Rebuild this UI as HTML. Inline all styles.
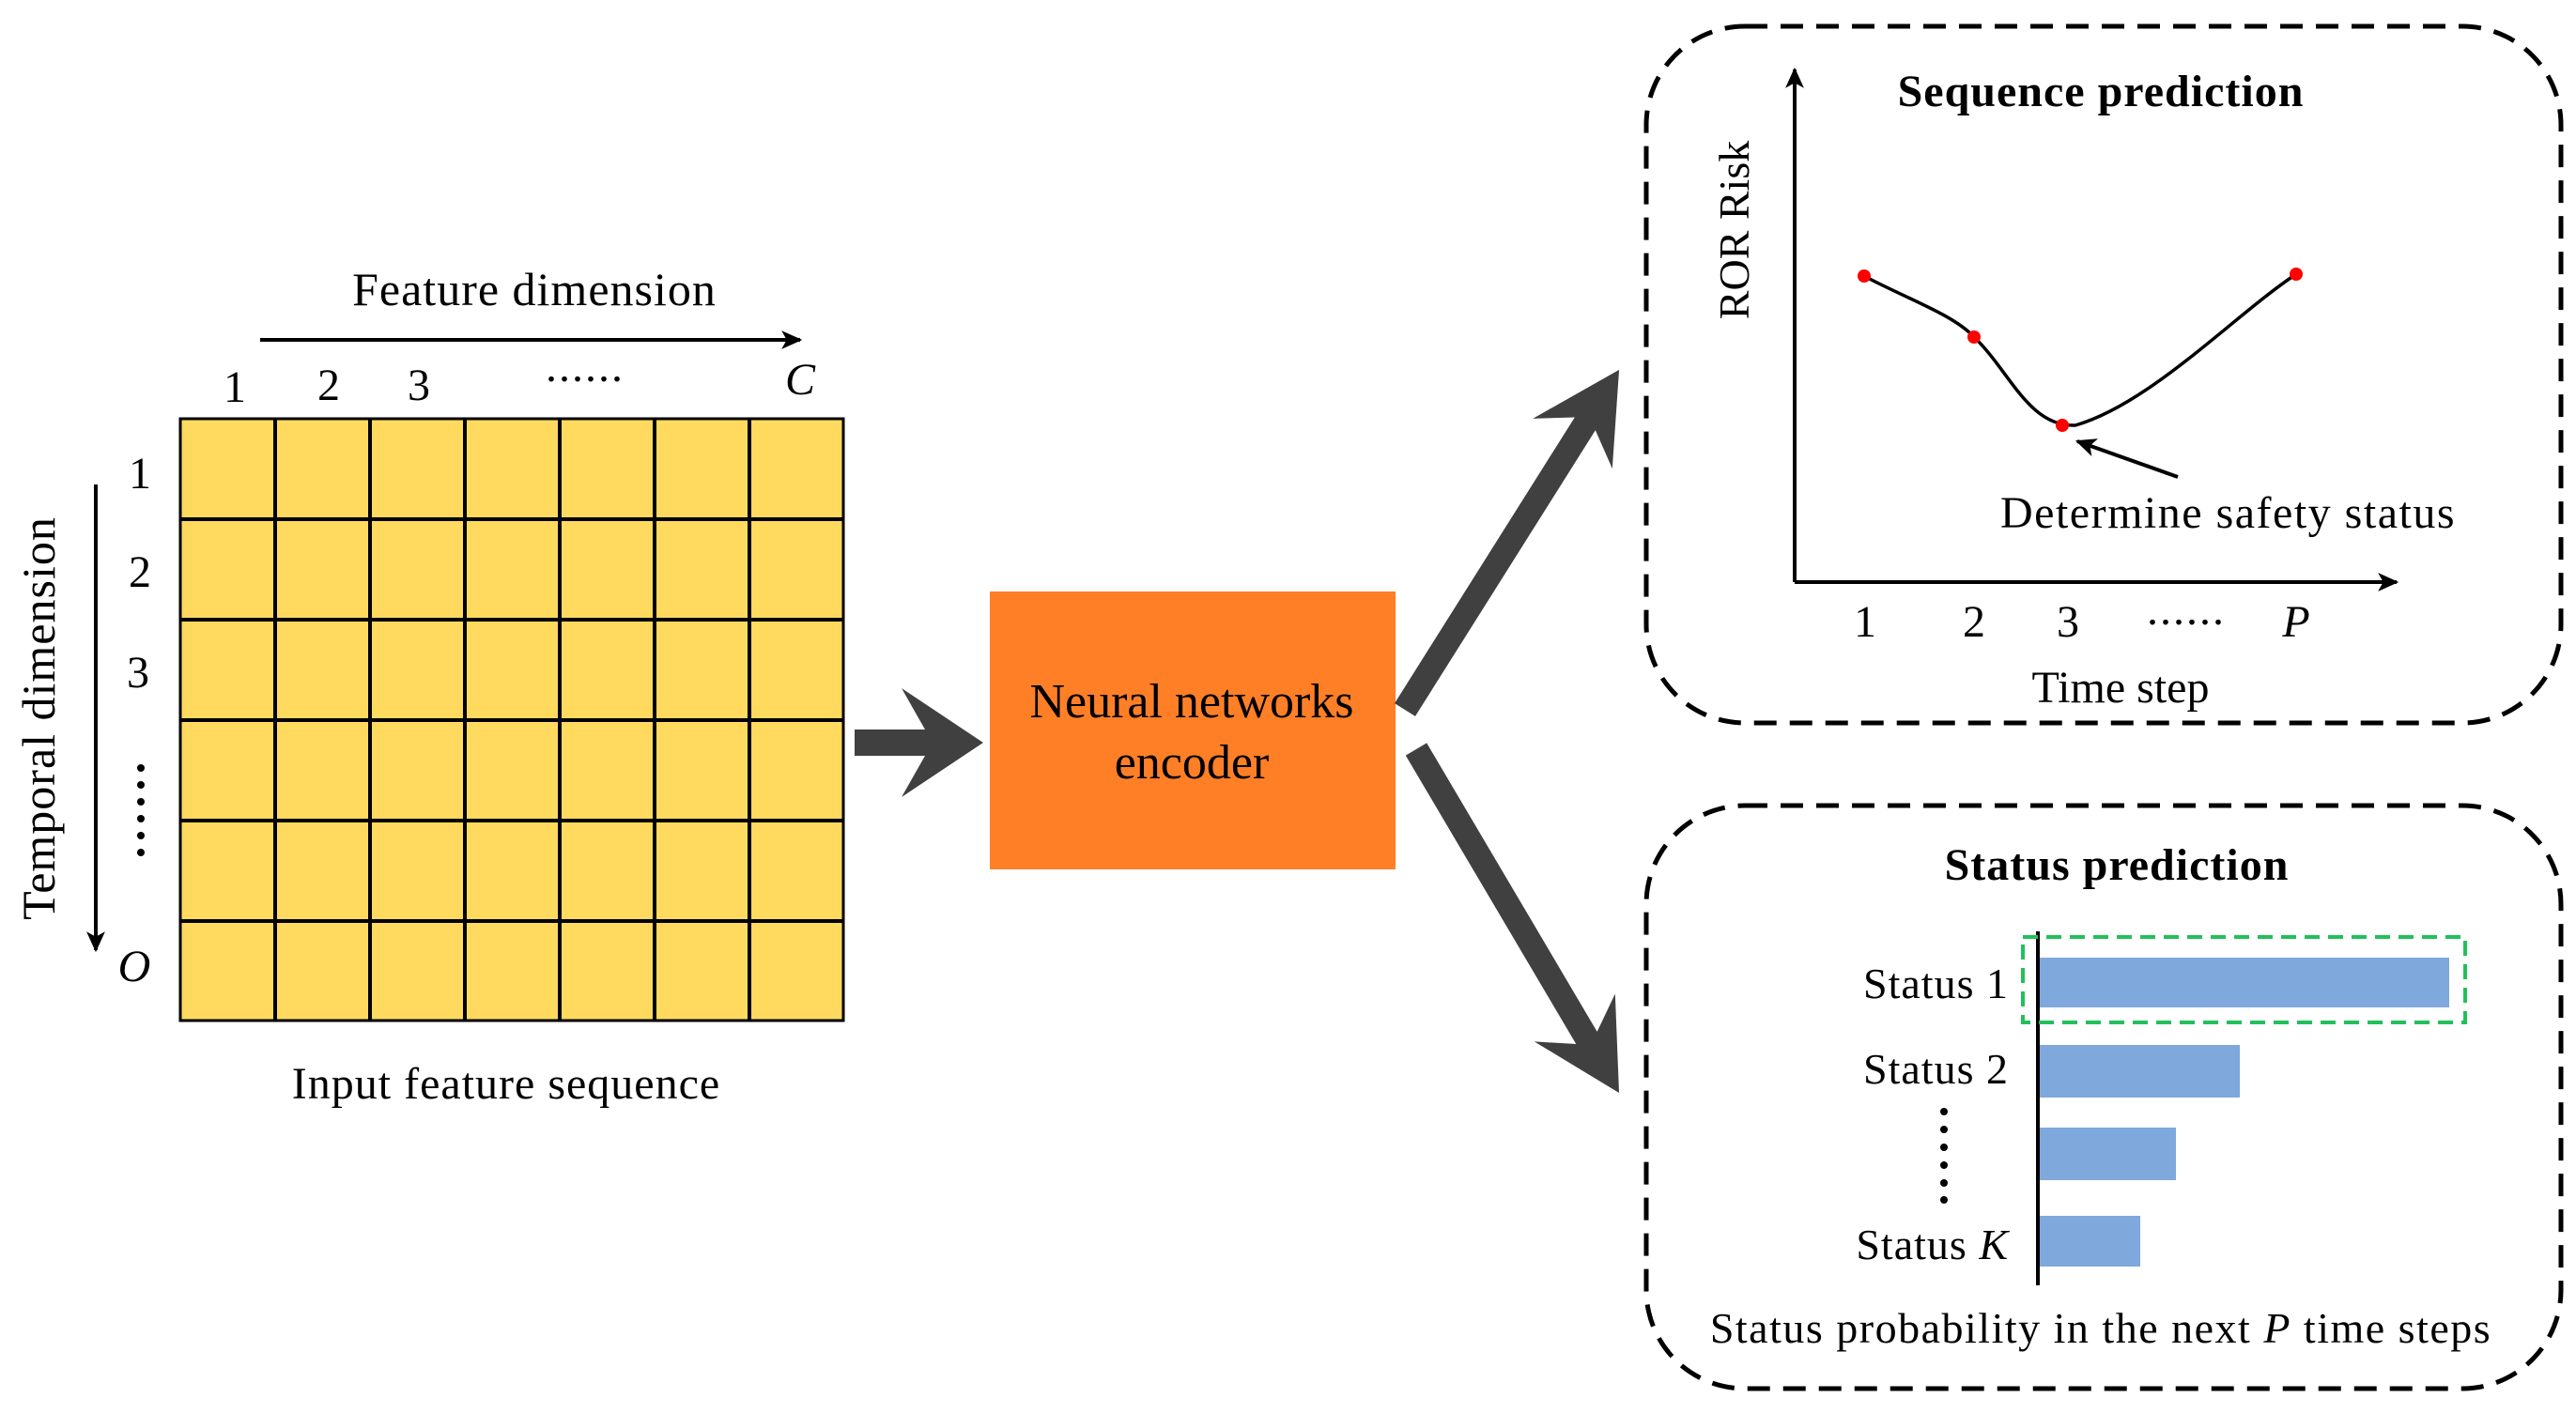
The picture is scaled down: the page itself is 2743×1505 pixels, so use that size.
<!DOCTYPE html>
<html><head><meta charset="utf-8"><style>
html,body{margin:0;padding:0;background:#fff;}
svg{display:block;font-family:"Liberation Serif","DejaVu Serif","Times New Roman",serif;}
text{font-family:"Liberation Serif","DejaVu Serif","Times New Roman",serif;fill:#000;}
</style></head><body>
<svg width="2743" height="1505" viewBox="0 0 2743 1505" xmlns="http://www.w3.org/2000/svg" font-family="Liberation Serif, DejaVu Serif, serif">
<defs>
<marker id="ah" viewBox="0 0 20 20" refX="18" refY="10" markerWidth="22" markerHeight="22" markerUnits="userSpaceOnUse" orient="auto">
<path d="M0,1 L20,10 L0,19 L5,10 z" fill="#000"/></marker>
</defs>
<!-- grid -->
<rect x="192" y="446" width="706" height="641" fill="#FFDA5E" stroke="#000" stroke-width="3"/>
<g stroke="#000" stroke-width="4">
<line x1="293" y1="446" x2="293" y2="1087"/><line x1="394" y1="446" x2="394" y2="1087"/>
<line x1="495" y1="446" x2="495" y2="1087"/><line x1="596" y1="446" x2="596" y2="1087"/>
<line x1="697" y1="446" x2="697" y2="1087"/><line x1="798" y1="446" x2="798" y2="1087"/>
<line x1="192" y1="553" x2="898" y2="553"/><line x1="192" y1="660" x2="898" y2="660"/>
<line x1="192" y1="767" x2="898" y2="767"/><line x1="192" y1="874" x2="898" y2="874"/>
<line x1="192" y1="981" x2="898" y2="981"/>
</g>
<text x="569" y="325" font-size="50" text-anchor="middle" letter-spacing="1">Feature dimension</text>
<line x1="277" y1="362" x2="852" y2="362" stroke="#000" stroke-width="4" marker-end="url(#ah)"/>
<g font-size="48" text-anchor="middle">
<text x="250" y="428">1</text><text x="350" y="426">2</text><text x="446" y="426">3</text>
<text x="623" y="406" letter-spacing="2">......</text>
<text x="852" y="420" font-style="italic">C</text>
<text x="149" y="520">1</text><text x="149" y="625">2</text><text x="147" y="732">3</text>
<text x="143" y="1045" font-style="italic">O</text>
</g>
<g fill="#000"><circle cx="150" cy="818" r="4"/><circle cx="150" cy="836" r="4"/><circle cx="150" cy="854" r="4"/><circle cx="150" cy="872" r="4"/><circle cx="150" cy="890" r="4"/><circle cx="150" cy="908" r="4"/></g>
<line x1="102" y1="516" x2="102" y2="1012" stroke="#000" stroke-width="4" marker-end="url(#ah)"/>
<text transform="translate(58,765) rotate(-90)" font-size="50" text-anchor="middle" letter-spacing="1">Temporal dimension</text>
<text x="539" y="1170" font-size="48" text-anchor="middle" letter-spacing="1">Input feature sequence</text>
<!-- arrow to encoder -->
<polygon points="910,777 985,777 960,733 1047,791 960,849 985,805 910,805" fill="#404040"/>
<!-- encoder -->
<rect x="1054" y="630" width="432" height="296" fill="#FF7F27"/>
<text x="1269" y="764" font-size="52" text-anchor="middle">Neural networks</text>
<text x="1269" y="829" font-size="52" text-anchor="middle">encoder</text>
<!-- diagonal arrows -->
<g transform="translate(1496,756) rotate(-57.8)"><polygon points="0,-13 360,-13 335,-50 428,0 335,50 360,13 0,13" fill="#404040"/></g>
<g transform="translate(1508,798) rotate(59.45)"><polygon points="0,-13 357,-13 332,-50 425,0 332,50 357,13 0,13" fill="#404040"/></g>
<!-- top box -->
<rect x="1753" y="28" width="974" height="742" rx="105" fill="none" stroke="#000" stroke-width="5" stroke-dasharray="24,14"/>
<text x="2237" y="113" font-size="48" font-weight="bold" text-anchor="middle" letter-spacing="1">Sequence prediction</text>
<line x1="1911" y1="620" x2="1911" y2="74" stroke="#000" stroke-width="4" marker-end="url(#ah)"/>
<line x1="1911" y1="620" x2="2552" y2="620" stroke="#000" stroke-width="4" marker-end="url(#ah)"/>
<text transform="translate(1862,245) rotate(-90)" font-size="46" text-anchor="middle">ROR Risk</text>
<path d="M1985,294 C2030,318 2080,335 2102,359 C2140,395 2160,455 2210,453 C2290,430 2380,335 2445,292" fill="none" stroke="#000" stroke-width="3.5"/>
<g fill="#f00"><circle cx="1985" cy="294" r="7"/><circle cx="2102" cy="359" r="7"/><circle cx="2196" cy="453" r="7"/><circle cx="2445" cy="292" r="7"/></g>
<line x1="2319" y1="508" x2="2212" y2="470" stroke="#000" stroke-width="4" marker-end="url(#ah)"/>
<text x="2130" y="562" font-size="48" letter-spacing="1.5">Determine safety status</text>
<g font-size="48" text-anchor="middle">
<text x="1986" y="678">1</text><text x="2102" y="678">2</text><text x="2202" y="678">3</text>
<text x="2328" y="665" letter-spacing="2">......</text>
<text x="2445" y="678" font-style="italic">P</text>
<text x="2258" y="748">Time step</text>
</g>
<!-- bottom box -->
<rect x="1753" y="858" width="974" height="621" rx="105" fill="none" stroke="#000" stroke-width="5" stroke-dasharray="24,14"/>
<text x="2254" y="937" font-size="48" font-weight="bold" text-anchor="middle" letter-spacing="1">Status prediction</text>
<g fill="#7FA8DC">
<rect x="2170" y="1020" width="438" height="53"/>
<rect x="2170" y="1113" width="215" height="56"/>
<rect x="2170" y="1201" width="147" height="56"/>
<rect x="2170" y="1295" width="109" height="54"/>
</g>
<line x1="2170" y1="992" x2="2170" y2="1369" stroke="#000" stroke-width="4"/>
<rect x="2154" y="998" width="471" height="91" fill="none" stroke="#22C05A" stroke-width="4" stroke-dasharray="16,9"/>
<g font-size="46" text-anchor="end" letter-spacing="1">
<text x="2139" y="1063">Status 1</text>
<text x="2139" y="1154">Status 2</text>
<text x="2139" y="1341">Status <tspan font-style="italic">K</tspan></text>
</g>
<g fill="#000"><circle cx="2070" cy="1184" r="4"/><circle cx="2070" cy="1203" r="4"/><circle cx="2070" cy="1222" r="4"/><circle cx="2070" cy="1241" r="4"/><circle cx="2070" cy="1260" r="4"/><circle cx="2070" cy="1278" r="4"/></g>
<text x="2237" y="1430" font-size="46" text-anchor="middle" letter-spacing="1.5">Status probability in the next <tspan font-style="italic">P</tspan> time steps</text>
</svg>
</body></html>
